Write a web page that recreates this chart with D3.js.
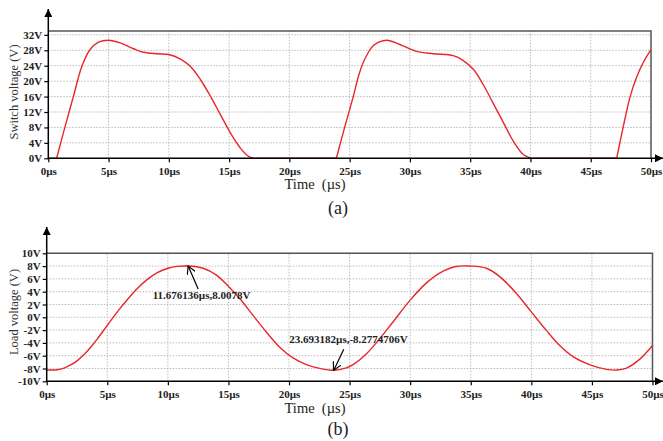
<!DOCTYPE html>
<html>
<head>
<meta charset="utf-8">
<script src="https://cdn.jsdelivr.net/npm/d3@7"></script>
<style>
  body { margin: 0; background: #fff; }
  svg { display: block; }
  text { font-family: "Liberation Serif", "Times New Roman", serif; }
</style>
</head>
<body>
<div id="chart"></div>
<script>
// switch voltage (a)
var switchT = [0, 0.69, 1.39, 2.08, 2.78, 3.47, 4.17, 5, 5.97, 7.08, 7.9, 9.03, 10, 10.97, 11.8, 12.64, 13.47, 14.3, 15.14, 15.97, 16.67, 17.1,
               23.9, 24.6, 25.3, 25.8, 26.3, 27.0, 28.06, 29.17, 30.56, 31.94, 33.6, 34.4, 35.28, 36.1, 36.9, 37.8, 38.6, 39.4, 40, 40.3,
               47.15, 47.7, 48.27, 48.83, 49.4, 50];
var switchV = [0, 0, 8.2, 16, 23.8, 28.2, 30.1, 30.6, 29.9, 28.4, 27.5, 27.1, 26.9, 25.7, 23.8, 20.3, 16, 11.2, 6.4, 2.5, 0.35, 0,
               0, 8.2, 16, 22, 26, 29.3, 30.6, 29.5, 27.7, 27.1, 26.6, 25.4, 23, 19, 14.3, 9, 4.3, 1, 0.1, 0,
               0, 8.2, 16, 21.2, 25.1, 28.2];

// load voltage (b)
var loadT = [0, 0.88, 1.43, 1.98, 2.53, 3.08, 3.63, 4.18, 5.0, 5.83, 6.66, 7.48, 8.31, 9.13, 10.0, 10.79, 11.68,
             12.91, 14.01, 15.03, 15.93, 17.03, 18.13, 19.23, 20.33, 21.43, 22.53, 23.69,
             24.73, 25.28, 26.38, 27.48, 28.58, 30, 31.3, 32.4, 33.78, 35, 36.29, 37.39, 38.77, 40, 41.24, 42.34, 43.44, 45.03, 46.2, 47.04, 47.86, 48.98, 50];
var loadV = [-8.24, -8.19, -7.93, -7.45, -6.77, -5.83, -4.67, -3.36, -1.26, 0.84, 2.78, 4.51, 5.93, 6.98, 7.66, 7.96, 8.01,
             7.66, 6.6, 4.78, 2.94, 0.3, -2.3, -4.67, -6.35, -7.4, -7.98, -8.28,
             -7.9, -7.4, -5.72, -3.36, -0.73, 2.68, 5.3, 6.88, 7.93, 8.0, 7.66, 6.35, 3.73, 0.84, -2.05, -4.41, -6.14, -7.56, -8.14, -8.24, -7.93, -6.5, -4.41];

var timeTicks = [0, 5, 10, 15, 20, 25, 30, 35, 40, 45, 50];
var switchTicks = [0, 4, 8, 12, 16, 20, 24, 28, 32];
var loadTicks = [-10, -8, -6, -4, -2, 0, 2, 4, 6, 8, 10];

var annotations = [
  { t: 11.676136, v: 8.0078, label: '11.676136\u00b5s,8.0078V', tx: 152.7, ty: 299, dx: 10, dy: 23 },
  { t: 23.693182, v: -8.2774706, label: '23.693182\u00b5s,-8.2774706V', tx: 289.3, ty: 343, dx: 10, dy: -21 }
];

var W = 663, H = 441;
var svg = d3.select('#chart').append('svg').attr('width', W).attr('height', H);

var red = '#e8262c';

var defs = svg.append('defs');
defs.append('marker').attr('id', 'axArrow').attr('viewBox', '0 0 10 10')
  .attr('refX', 10).attr('refY', 5).attr('markerWidth', 8).attr('markerHeight', 8)
  .attr('markerUnits', 'userSpaceOnUse').attr('orient', 'auto')
  .append('path').attr('d', 'M0,0L10,5L0,10Z').attr('fill', '#000');
defs.append('marker').attr('id', 'openArrow').attr('viewBox', '0 0 10 10')
  .attr('refX', 9).attr('refY', 5).attr('markerWidth', 9).attr('markerHeight', 9)
  .attr('markerUnits', 'userSpaceOnUse').attr('orient', 'auto')
  .append('path').attr('d', 'M0,0L9,5L0,10').attr('fill', 'none').attr('stroke', '#000').attr('stroke-width', 1.3);

// split a trace into flat-zero runs (straight) and curved runs
function pieces(pts) {
  var out = [], cur = [pts[0]], curFlat = pts[0][1] === 0 && pts[1][1] === 0;
  for (var i = 1; i < pts.length; i++) {
    var flat = pts[i][1] === 0 && pts[i - 1][1] === 0;
    if (flat !== curFlat) {
      out.push({ flat: curFlat, pts: cur });
      cur = [pts[i - 1]];
      curFlat = flat;
    }
    cur.push(pts[i]);
  }
  out.push({ flat: curFlat, pts: cur });
  return out;
}

function panel(opts) {
  var x = d3.scaleLinear().domain([0, 50]).range(opts.xr);
  var y = d3.scaleLinear().domain(opts.yd).range(opts.yr);
  var g = svg.append('g');
  var y0 = opts.yr[0], yTop = opts.yr[1], x0 = opts.xr[0], x1 = opts.xr[1];

  // grid
  g.append('g').selectAll('line').data(timeTicks.filter(function (d) { return d > 0 && d < 50; }))
    .enter().append('line')
    .attr('x1', function (d) { return x(d); }).attr('x2', function (d) { return x(d); })
    .attr('y1', y0).attr('y2', yTop)
    .attr('stroke', '#bbb').attr('stroke-width', 1).attr('stroke-dasharray', '1.5,1.5');
  g.append('g').selectAll('line').data(opts.ticks.filter(function (d) { return d > opts.yd[0]; }))
    .enter().append('line')
    .attr('x1', x0).attr('x2', x1)
    .attr('y1', function (d) { return y(d); }).attr('y2', function (d) { return y(d); })
    .attr('stroke', '#bbb').attr('stroke-width', 1).attr('stroke-dasharray', '1.5,1.5');

  // frame (top + right)
  g.append('path').attr('d', 'M' + x0 + ',' + yTop + 'H' + x1 + 'V' + y0)
    .attr('fill', 'none').attr('stroke', '#555').attr('stroke-width', 1.5);

  // curve
  var smooth = d3.line().x(function (d) { return x(d[0]); }).y(function (d) { return y(d[1]); })
    .curve(d3.curveCatmullRom.alpha(0.5));
  var straight = d3.line().x(function (d) { return x(d[0]); }).y(function (d) { return y(d[1]); });
  var segs = opts.split ? pieces(d3.zip(opts.t, opts.v)) : [{ flat: false, pts: d3.zip(opts.t, opts.v) }];
  g.append('g').selectAll('path').data(segs).enter().append('path')
    .attr('d', function (s) { return s.flat ? straight(s.pts) : smooth(s.pts); })
    .attr('fill', 'none').attr('stroke', red).attr('stroke-width', 1.4);

  // axes
  var xAxis = d3.axisBottom(x).tickValues(timeTicks).tickSize(4).tickFormat(function (d) { return d + '\u00b5s'; });
  var gx = g.append('g').attr('transform', 'translate(0,' + y0 + ')').call(xAxis);
  gx.select('.domain').remove();
  gx.selectAll('line').attr('stroke', '#000').attr('stroke-width', 1.2);
  gx.selectAll('text').attr('font-size', 11).attr('font-weight', 'bold').attr('fill', '#222').attr('dy', '0.85em');

  var yAxis = d3.axisLeft(y).tickValues(opts.ticks).tickSize(4).tickPadding(2).tickFormat(function (d) { return d + 'V'; });
  var gy = g.append('g').attr('transform', 'translate(' + x0 + ',0)').call(yAxis);
  gy.select('.domain').remove();
  gy.selectAll('line').attr('stroke', '#000').attr('stroke-width', 1.2);
  gy.selectAll('text').attr('font-size', 11).attr('font-weight', 'bold').attr('fill', '#222');

  g.append('line').attr('x1', x0).attr('x2', x0).attr('y1', y0 + 0.5).attr('y2', opts.arrowTop)
    .attr('stroke', '#000').attr('stroke-width', 1.5).attr('marker-end', 'url(#axArrow)');
  g.append('line').attr('x1', x0 - 0.5).attr('x2', 663).attr('y1', y0).attr('y2', y0)
    .attr('stroke', '#000').attr('stroke-width', 1.5).attr('marker-end', 'url(#axArrow)');

  // labels
  g.append('text').attr('transform', 'translate(18,' + opts.ylabY + ') rotate(-90)')
    .attr('text-anchor', 'middle').attr('font-size', 12.5).attr('fill', '#333').text(opts.ylabel);
  g.append('text').attr('x', 315).attr('y', opts.timeY).attr('text-anchor', 'middle')
    .attr('font-size', 14.5).attr('fill', '#222').attr('xml:space', 'preserve').text('Time  (\u00b5s)');
  g.append('text').attr('x', 338).attr('y', opts.capY).attr('text-anchor', 'middle')
    .attr('font-size', 18).attr('fill', '#222').text(opts.caption);

  return { g: g, x: x, y: y };
}

panel({
  xr: [48.3, 651], yd: [0, 33], yr: [158.3, 31], ticks: switchTicks, split: true,
  t: switchT, v: switchV, arrowTop: 9, ylabel: 'Switch voltage  (V)', ylabY: 92,
  timeY: 189, capY: 214, caption: '(a)'
});

var pb = panel({
  xr: [46.7, 652.5], yd: [-10, 10], yr: [381.3, 253.3], ticks: loadTicks, split: false,
  t: loadT, v: loadV, arrowTop: 227, ylabel: 'Load voltage  (V)', ylabY: 312,
  timeY: 413, capY: 435, caption: '(b)'
});

// point annotations
annotations.forEach(function (a) {
  var px = pb.x(a.t), py = pb.y(a.v);
  svg.append('line').attr('x1', px + a.dx).attr('y1', py + a.dy).attr('x2', px).attr('y2', py)
    .attr('stroke', '#000').attr('stroke-width', 1.2).attr('marker-end', 'url(#openArrow)');
  svg.append('text').attr('x', a.tx).attr('y', a.ty).attr('font-size', 11).attr('font-weight', 'bold')
    .attr('fill', '#222').text(a.label);
});
</script>
</body>
</html>
